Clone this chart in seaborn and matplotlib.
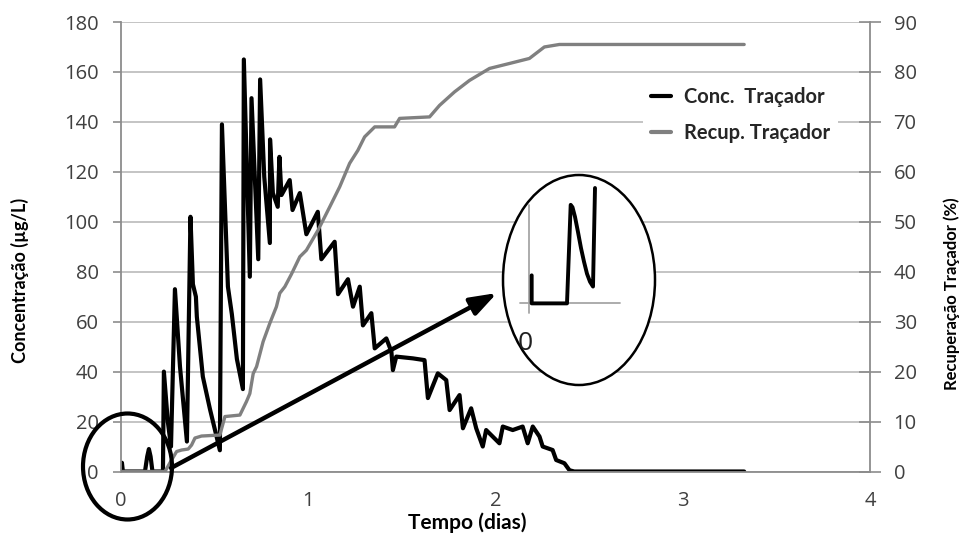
import numpy as np
import pandas as pd
import matplotlib
matplotlib.use("Agg")
import matplotlib.pyplot as plt
from matplotlib.patches import Ellipse, FancyArrowPatch
from matplotlib.lines import Line2D
import seaborn as sns

# Tracer concentration (µg/L) over time (days)
t_conc = [0.000, 0.005, 0.010, 0.128, 0.140, 0.149, 0.158, 0.168, 0.224, 0.229,
          0.250, 0.267, 0.288, 0.315, 0.352, 0.371, 0.384, 0.400, 0.405, 0.437,
          0.475, 0.528, 0.539, 0.571, 0.592, 0.619, 0.651, 0.656, 0.688, 0.697,
          0.733, 0.743, 0.765, 0.795, 0.796, 0.811, 0.837, 0.846, 0.857, 0.901,
          0.916, 0.955, 0.990, 1.051, 1.070, 1.141, 1.159, 1.212, 1.239, 1.275,
          1.292, 1.337, 1.355, 1.417, 1.444, 1.452, 1.470, 1.559, 1.621, 1.639,
          1.692, 1.737, 1.755, 1.808, 1.826, 1.870, 1.897, 1.932, 1.950, 2.021,
          2.039, 2.092, 2.145, 2.172, 2.199, 2.235, 2.252, 2.305, 2.324, 2.368,
          2.395, 2.421, 3.328]
conc = [0, 3.5, 0, 0, 6, 9, 6, 0, 0, 40,
        20, 10, 73, 42, 12, 102, 75, 70, 62, 38,
        25, 8.5, 139, 74, 63, 45, 33, 165, 78, 149.5,
        85, 157, 118, 91.5, 133, 111.5, 106, 126, 110.7, 116.7,
        104.7, 111.5, 95, 104, 85, 92, 71, 77, 66, 74,
        58.5, 63.4, 49.3, 53.3, 48, 40.6, 46, 45.3, 44.6, 29.4,
        39.3, 36.6, 24.6, 30.6, 17.3, 25.3, 17.3, 10, 16.6, 11.3,
        18, 16.6, 18, 11.3, 18, 14, 10, 8.6, 4.6, 3.3,
        0.5, 0, 0]

# Cumulative tracer recovery (%)
t_rec = [0, 0.235, 0.270, 0.297, 0.324, 0.359, 0.377, 0.395, 0.430, 0.528,
         0.555, 0.635, 0.670, 0.688, 0.706, 0.724, 0.759, 0.795, 0.830, 0.848,
         0.875, 0.910, 0.955, 0.990, 1.052, 1.115, 1.168, 1.221, 1.265, 1.301,
         1.355, 1.461, 1.488, 1.648, 1.701, 1.781, 1.861, 1.968, 2.075, 2.181,
         2.261, 2.341, 3.328]
recov = [0, 0, 2.3, 4.0, 4.3, 4.5, 5.3, 6.7, 7.1, 7.3,
         11.0, 11.3, 14.0, 15.6, 19.6, 21.0, 26.0, 29.7, 33.0, 35.7,
         37.0, 39.5, 43.0, 44.3, 48.3, 53.0, 57.0, 61.7, 64.3, 67.0,
         69.0, 69.0, 70.7, 71.0, 73.3, 76.0, 78.3, 80.7, 81.7, 82.7,
         85.0, 85.5, 85.5]

# Magnified view of the first arrival
t_zoom = [0.0057, 0.0057, 0.0834, 0.0915, 0.0955, 0.1010, 0.1076, 0.1142,
          0.1208, 0.1274, 0.1340, 0.1406, 0.1450]
c_zoom = [3.5, 0.0, 0.0, 12.3, 12.0, 10.8, 8.9, 6.9, 5.2, 3.7, 2.7, 2.1, 14.4]

x_ticks = [0, 1, 2, 3, 4]
y_left_ticks = list(range(0, 181, 20))
y_right_ticks = list(range(0, 91, 10))

sns.set_style("white")
plt.rcParams['font.family'] = ['Lato', 'DejaVu Sans']

W, H = 961, 538
fig = plt.figure(figsize=(W / 100, H / 100), dpi=100)
fig.patch.set_facecolor("white")

def fx(px):
    return px / W

def fy(py):
    return 1 - py / H

ax = fig.add_axes([fx(121), fy(471.5), fx(870) - fx(121), fy(22) - fy(471.5)])
ax2 = ax.twinx()

df_c = pd.DataFrame({"t": t_conc, "c": conc})
df_r = pd.DataFrame({"t": t_rec, "r": recov})

sns.lineplot(data=df_c, x="t", y="c", ax=ax, color="black", lw=3.0,
             sort=False, estimator=None, legend=False)
sns.lineplot(data=df_r, x="t", y="r", ax=ax2, color="#808080", lw=2.4,
             sort=False, estimator=None, legend=False)

grey = "#8c8c8c"
tick_font = dict(family="Open Sans", size=14.5)

ax.set_xlim(0, 4)
ax.set_ylim(0, 180)
ax2.set_ylim(0, 90)
ax.set_xticks(x_ticks)
ax.set_yticks(y_left_ticks)
ax2.set_yticks(y_right_ticks)
ax.set_xticklabels([str(v) for v in x_ticks], fontdict=tick_font, color="#404040")
ax.set_yticklabels([str(v) for v in y_left_ticks], fontdict=tick_font, color="#404040")
ax2.set_yticklabels([str(v) for v in y_right_ticks], fontdict=tick_font, color="#404040")

ax.yaxis.grid(True, color="#c4c4c4", lw=1.4)
ax.xaxis.grid(False)
ax.set_axisbelow(True)

for a in (ax, ax2):
    a.spines["top"].set_visible(False)
    for s in ("left", "right", "bottom"):
        a.spines[s].set_color(grey)
        a.spines[s].set_linewidth(1.3)
ax.spines["right"].set_visible(False)
ax2.spines["left"].set_visible(False)
ax2.spines["bottom"].set_visible(False)

ax.tick_params(axis="y", direction="out", length=6, width=1.2, color=grey, pad=10)
ax.tick_params(axis="x", direction="out", length=6, width=1.2, color=grey, pad=8)
ax2.tick_params(axis="y", direction="inout", length=16, width=1.2, color=grey, pad=9)

ax.set_xlabel("Tempo (dias)", fontsize=15, fontweight="bold", color="black")
ax.set_ylabel("Concentração (µg/L)", fontsize=13, fontweight="bold", color="black")
ax2.set_ylabel("Recuperação Traçador (%)", fontsize=12, fontweight="bold", color="black")
ax.xaxis.set_label_coords((467 - 121) / 749, (471.5 - 523) / 449.5)
ax.yaxis.set_label_coords((20 - 121) / 749, (471.5 - 280) / 449.5)
ax2.yaxis.set_label_coords((952 - 121) / 749, (471.5 - 294) / 449.5)
for lab in (ax.xaxis.label, ax.yaxis.label, ax2.yaxis.label):
    lab.set_verticalalignment("center")
    lab.set_horizontalalignment("center")

handles = [Line2D([], [], color="black", lw=3.0),
           Line2D([], [], color="#808080", lw=3.0)]
leg = ax2.legend(handles, ["Conc.  Traçador", "Recup. Traçador"],
                 loc="upper left", bbox_to_anchor=(fx(643), fy(79)),
                 bbox_transform=fig.transFigure, frameon=True, framealpha=1,
                 edgecolor="none", facecolor="white", borderaxespad=0,
                 handlelength=1.0, handletextpad=0.65, labelspacing=0.78,
                 prop=dict(family="Lato", weight="bold", size=14.5))

# Circle marking the first arrival, arrow to the magnified view
small = Ellipse((fx(127.5), fy(466.5)), 89 / W, 106 / H, transform=fig.transFigure,
                fill=False, ec="black", lw=3.0, zorder=10)
fig.add_artist(small)
arrow = FancyArrowPatch((fx(171), fy(468)), (fx(497), fy(293)),
                        transform=fig.transFigure,
                        arrowstyle="-|>,head_length=0.8,head_width=0.28",
                        mutation_scale=20, lw=3.2, color="black",
                        shrinkA=0, shrinkB=0, zorder=10)
fig.add_artist(arrow)
big = Ellipse((fx(579), fy(280)), 152 / W, 210 / H, transform=fig.transFigure,
              fill=True, fc="white", ec="black", lw=1.8, zorder=9)
fig.add_artist(big)

axz = fig.add_axes([fx(520), fy(313), 100 / W, 125 / H], zorder=11)
axz.patch.set_visible(False)
axz.set_xlim(-0.02, 0.2)
axz.set_ylim(-1.2, 14.4)
axz.axvline(0, ymin=0, ymax=0.864, color="#a6a6a6", lw=1.3)
axz.axhline(0, color="#a6a6a6", lw=1.3)
sns.lineplot(x=t_zoom, y=c_zoom, ax=axz, color="black", lw=2.8, sort=False,
             estimator=None, legend=False)
for ln in axz.lines:
    ln.set_clip_on(False)
axz.set_axis_off()

zero = fig.text(fx(525), fy(344), "0", family="Open Sans", fontsize=19,
                color="#202020", ha="center", va="center", zorder=12)
zero.set_clip_path(big)

fig.savefig("out.png", dpi=100, facecolor="white")
